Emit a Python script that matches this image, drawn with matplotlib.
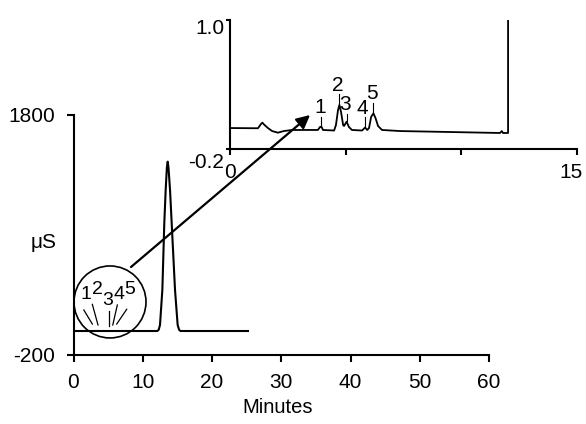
import matplotlib
matplotlib.use('Agg')
import matplotlib.pyplot as plt
from matplotlib.patches import Ellipse
from matplotlib.transforms import ScaledTranslation

plt.rcParams['font.family'] = ['Liberation Sans', 'DejaVu Sans']
plt.rcParams['axes.unicode_minus'] = False

# ---- main chromatogram (minutes, µS) ----
main_time = [0, 12.1, 12.3, 12.49, 12.83, 13.11, 13.31, 13.48, 13.6, 13.72, 13.94, 14.18, 14.66, 15.04, 15.25, 15.45, 25.2]
main_signal = [0, 0, 10, 50, 342, 897, 1175, 1360, 1411, 1360, 1175, 897, 342, 50, 10, 0, 0]
main_xticks = [0, 10, 20, 30, 40, 50, 60]
main_yticks = [-200, 1800]

# ---- inset chromatogram ----
inset_time = [0, 1.21, 1.34, 1.40, 1.47, 1.64, 1.82, 2.07, 2.33, 2.68, 3.80, 3.89, 3.96, 4.02,
              4.50, 4.58, 4.67, 4.73, 4.80, 4.89, 4.93, 5.04, 5.14, 5.27, 5.71, 5.84, 5.93,
              6.01, 6.10, 6.20, 6.29, 6.40, 6.57, 7.35, 9.51, 11.67, 11.75, 11.80, 12.02, 12.02]
inset_signal = [-0.005, -0.007, 0.033, 0.045, 0.028, -0.005, -0.033, -0.048, -0.033, -0.023, -0.023,
                0.005, 0.005, -0.023, -0.028, 0.023, 0.163, 0.21, 0.144, 0.023, 0.014, 0.054,
                0.005, -0.023, -0.028, 0.0, -0.023, -0.005, 0.098, 0.132, 0.088, 0.014, -0.023,
                -0.033, -0.042, -0.051, -0.033, -0.051, -0.051, 1.0]
inset_xticks = [0, 5, 10, 15]
inset_xticklabels = ['0', '', '', '15']
inset_yticks = [-0.2, 1.0]
inset_yticklabels = ['-0.2', '1.0']

# peak annotations in the inset
peak_labels = ['1', '2', '3', '4', '5']
peak_time = [3.92, 4.73, 5.04, 5.84, 6.20]
peak_top = [0.02, 0.21, 0.06, 0.01, 0.14]
leader_top = [0.10, 0.31, 0.13, 0.10, 0.23]
label_x = [3.89, 4.67, 4.99, 5.71, 6.12]
label_y = [0.186, 0.395, 0.214, 0.181, 0.316]

# circled region in the main chart
circle_center = (5.27, 242)
circle_width, circle_height = 10.4, 600
circle_label_x = [1.86, 3.43, 5.0, 6.57, 8.14]
circle_label_y = [308, 342, 258, 308, 346]
ray_x0 = [1.49, 2.72, 5.17, 6.33, 7.68]
ray_y0 = [175, 222, 167, 217, 181]
ray_x1 = [2.72, 3.54, 5.17, 5.67, 6.24]
ray_y1 = [58, 50, 42, 50, 58]

arrow_start = (8.3, 533)     # main data coords
arrow_end = (3.46, 0.116)    # inset data coords

LW = 1.5
fig = plt.figure(figsize=(5.86, 4.24), dpi=100)
ax = fig.add_axes([73.5 / 586, 1 - 355 / 424, 415.5 / 586, 240 / 424])
ax.plot(main_time, main_signal, color='black', lw=LW)
ax.set_xlim(0, 60)
ax.set_ylim(-200, 1800)
ax.set_xticks(main_xticks)
ax.set_yticks(main_yticks)
for s in ['top', 'right']:
    ax.spines[s].set_visible(False)
for s in ['left', 'bottom']:
    ax.spines[s].set_linewidth(LW)
ax.tick_params(direction='out', length=5, width=LW, labelsize=15, pad=8)
ax.set_xlabel('Minutes', fontsize=14.5)
ax.xaxis.set_label_coords(0.492, -0.22)
ax.xaxis.label.set_va('center')
ax.set_ylabel('μS', rotation=0, fontsize=15)
ax.yaxis.set_label_coords(-0.073, 0.47)
ax.yaxis.label.set_va('center')
ax.yaxis.label.set_ha('center')

ax.add_patch(Ellipse(circle_center, circle_width, circle_height, fill=False,
                     edgecolor='black', lw=1.2, clip_on=False))
for t, x, y in zip(peak_labels, circle_label_x, circle_label_y):
    ax.text(x, y, t, fontsize=14, ha='center', va='center')
for x0, y0, x1, y1 in zip(ray_x0, ray_y0, ray_x1, ray_y1):
    ax.plot([x0, x1], [y0, y1], color='black', lw=0.9)

# inset
axi = fig.add_axes([230 / 586, 1 - 149 / 424, 347 / 586, 129 / 424])
axi.set_facecolor('none')
axi.plot(inset_time, inset_signal, color='black', lw=1.3)
axi.set_xlim(0, 15)
axi.set_ylim(-0.2, 1.0)
axi.set_xticks(inset_xticks)
axi.set_xticklabels(inset_xticklabels)
axi.set_yticks(inset_yticks)
axi.set_yticklabels(inset_yticklabels)
for s in ['top', 'right']:
    axi.spines[s].set_visible(False)
for s in ['left', 'bottom']:
    axi.spines[s].set_linewidth(LW)
axi.tick_params(axis='x', direction='out', length=4, width=LW, labelsize=15, pad=6)
axi.tick_params(axis='y', direction='out', length=3, width=LW, labelsize=15, pad=1)
for lab, dy in zip(axi.get_yticklabels(), [-11, -7]):
    lab.set_transform(lab.get_transform() + ScaledTranslation(0, dy / 100, fig.dpi_scale_trans))
xlabs = axi.get_xticklabels()
xlabs[-1].set_transform(xlabs[-1].get_transform() + ScaledTranslation(-6 / 100, 0, fig.dpi_scale_trans))

for t, px, pt, lt, lx, ly in zip(peak_labels, peak_time, peak_top, leader_top, label_x, label_y):
    axi.plot([px, px], [lt, pt], color='black', lw=0.8)
    axi.text(lx, ly, t, fontsize=15, ha='center', va='center')

axi.annotate('', xy=arrow_end, xycoords='data', xytext=arrow_start, textcoords=ax.transData,
             arrowprops=dict(arrowstyle='-|>', lw=1.6, color='black', mutation_scale=20,
                             shrinkA=0, shrinkB=0), annotation_clip=False)

fig.savefig('out.png', dpi=100)
